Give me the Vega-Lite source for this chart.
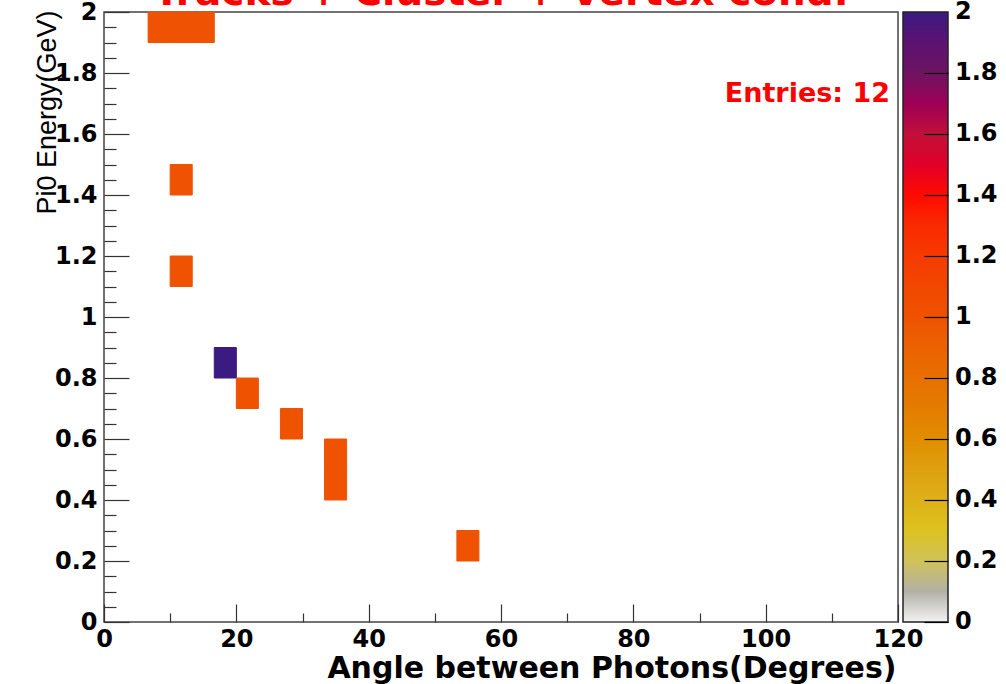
{
  "$schema": "https://vega.github.io/schema/vega-lite/v6.json",
  "autosize": {"type": "none"},
  "width": 794,
  "height": 610,
  "padding": {"left": 104, "top": 12, "right": 108, "bottom": 62},
  "background": "white",
  "title": {
    "text": "Tracks + Cluster + Vertex cond.",
    "color": "#ff0000",
    "font": "DejaVu Sans",
    "fontWeight": "bold",
    "fontSize": 39,
    "anchor": "middle",
    "frame": "group",
    "baseline": "alphabetic",
    "offset": 0,
    "dy": 44
  },
  "config": {
    "view": {"stroke": "#444444", "strokeWidth": 1.5},
    "axis": {
      "domain": false,
      "grid": false,
      "labelFont": "DejaVu Sans",
      "labelFontWeight": "bold",
      "labelFontSize": 24,
      "labelColor": "#000000",
      "tickColor": "#333333",
      "tickWidth": 1.2,
      "labelOverlap": false,
      "labelFlush": false,
      "labelBound": false
    }
  },
  "data": {
    "values": [
      {"angle_lo": 6.667, "angle_hi": 10.0, "e_lo": 1.9, "e_hi": 2.0, "count": 1},
      {"angle_lo": 10.0, "angle_hi": 13.333, "e_lo": 1.9, "e_hi": 2.0, "count": 1},
      {"angle_lo": 13.333, "angle_hi": 16.667, "e_lo": 1.9, "e_hi": 2.0, "count": 1},
      {"angle_lo": 10.0, "angle_hi": 13.333, "e_lo": 1.4, "e_hi": 1.5, "count": 1},
      {"angle_lo": 10.0, "angle_hi": 13.333, "e_lo": 1.1, "e_hi": 1.2, "count": 1},
      {"angle_lo": 16.667, "angle_hi": 20.0, "e_lo": 0.8, "e_hi": 0.9, "count": 2},
      {"angle_lo": 20.0, "angle_hi": 23.333, "e_lo": 0.7, "e_hi": 0.8, "count": 1},
      {"angle_lo": 26.667, "angle_hi": 30.0, "e_lo": 0.6, "e_hi": 0.7, "count": 1},
      {"angle_lo": 33.333, "angle_hi": 36.667, "e_lo": 0.5, "e_hi": 0.6, "count": 1},
      {"angle_lo": 33.333, "angle_hi": 36.667, "e_lo": 0.4, "e_hi": 0.5, "count": 1},
      {"angle_lo": 53.333, "angle_hi": 56.667, "e_lo": 0.2, "e_hi": 0.3, "count": 1}
    ]
  },
  "resolve": {"legend": {"color": "independent"}, "axis": {"y": "independent"}},
  "layer": [
    {
      "mark": {"type": "rect"},
      "encoding": {
        "x": {
          "field": "angle_lo",
          "type": "quantitative",
          "scale": {"domain": [0, 120], "nice": false, "zero": false},
          "axis": {
            "values": [0,5,10,15,20,25,30,35,40,45,50,55,60,65,70,75,80,85,90,95,100,105,110,115,120],
            "labelExpr": "datum.value % 20 === 0 ? format(datum.value, 'd') : ''",
            "tickSize": {"condition": {"test": "datum.value % 20 === 0", "value": -18}, "value": -9},
            "labelPadding": 23,
            "title": "Angle between Photons(Degrees)",
            "titleFont": "DejaVu Sans",
            "titleFontWeight": "bold",
            "titleFontSize": 30,
            "titleColor": "#000000",
            "titleAnchor": "end",
            "titleAlign": "right",
            "titleBaseline": "alphabetic",
            "titleX": 792,
            "titleY": 55
          }
        },
        "x2": {"field": "angle_hi"},
        "y": {
          "field": "e_lo",
          "type": "quantitative",
          "scale": {"domain": [0, 2], "nice": false, "zero": false},
          "axis": {
            "orient": "left",
            "values": [0,0.05,0.1,0.15,0.2,0.25,0.3,0.35,0.4,0.45,0.5,0.55,0.6,0.65,0.7,0.75,0.8,0.85,0.9,0.95,1,1.05,1.1,1.15,1.2,1.25,1.3,1.35,1.4,1.45,1.5,1.55,1.6,1.65,1.7,1.75,1.8,1.85,1.9,1.95,2],
            "labelExpr": "round(datum.value*100) % 20 === 0 ? format(datum.value, '.1~f') : ''",
            "tickSize": {"condition": {"test": "round(datum.value*100) % 20 === 0", "value": -25}, "value": -12},
            "labelPadding": 32,
            "title": "Pi0 Energy(GeV)",
            "titleFont": "Liberation Sans",
            "titleFontWeight": "normal",
            "titleFontSize": 27,
            "titleColor": "#000000",
            "titleAngle": -90,
            "titleAnchor": "end",
            "titleAlign": "right",
            "titleBaseline": "alphabetic",
            "titleX": -49,
            "titleY": -2
          }
        },
        "y2": {"field": "e_hi"},
        "color": {
          "field": "count",
          "type": "quantitative",
          "scale": {
            "type": "linear",
            "domain": [0, 0.1, 0.25, 0.45, 0.7, 1.0, 1.2, 1.4, 1.6, 1.8, 2.0],
            "range": ["#f2f2f2", "#b2b0a6", "#dccb22", "#dca818", "#e47c00", "#ef5200", "#f63a00", "#ff0a00", "#c0103a", "#6e1462", "#3b1a82"]
          },
          "legend": {
            "orient": "none",
            "legendX": 799,
            "legendY": 0,
            "direction": "vertical",
            "type": "gradient",
            "padding": 0,
            "title": null,
            "gradientLength": 610,
            "gradientThickness": 45,
            "gradientStrokeColor": "#222222",
            "gradientStrokeWidth": 1.5,
            "values": [0, 0.2, 0.4, 0.6, 0.8, 1, 1.2, 1.4, 1.6, 1.8, 2],
            "format": ".1~f",
            "labelFont": "DejaVu Sans",
            "labelFontWeight": "bold",
            "labelFontSize": 24,
            "labelColor": "#000000",
            "labelOffset": 7,
            "labelOverlap": false,
            "encode": {"labels": {"update": {"baseline": {"value": "middle"}}}}
          }
        }
      }
    },
    {
      "mark": {"type": "rect", "filled": false, "strokeWidth": 1},
      "encoding": {
        "x": {"field": "angle_lo", "type": "quantitative"},
        "x2": {"field": "angle_hi"},
        "y": {
          "field": "e_lo",
          "type": "quantitative",
          "axis": {
            "orient": "right",
            "offset": 50,
            "zindex": 2,
            "values": [0, 0.2, 0.4, 0.6, 0.8, 1, 1.2, 1.4, 1.6, 1.8],
            "labels": false,
            "domain": false,
            "grid": false,
            "tickSize": -24,
            "tickColor": "#000000",
            "tickWidth": 1.2,
            "title": null
          }
        },
        "y2": {"field": "e_hi"},
        "color": {"field": "count", "type": "quantitative", "legend": null}
      }
    },
    {
      "data": {"values": [{"label": "Entries: 12"}]},
      "mark": {
        "type": "text",
        "align": "right",
        "baseline": "alphabetic",
        "font": "DejaVu Sans",
        "fontWeight": "bold",
        "fontSize": 27,
        "color": "#ff0000"
      },
      "encoding": {
        "x": {"datum": 118.8, "type": "quantitative"},
        "y": {"datum": 1.705, "type": "quantitative", "axis": null},
        "text": {"field": "label"}
      }
    }
  ]
}
